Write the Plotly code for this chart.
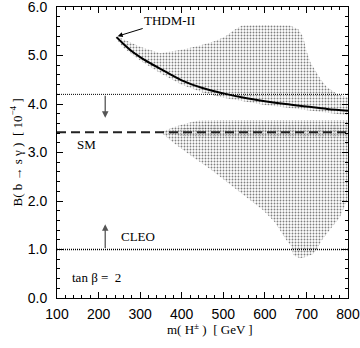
import plotly.graph_objects as go

# THDM-II prediction curve
curve_m = [243, 260, 280, 300, 325, 350, 375, 400, 450, 500, 550, 600, 650, 700, 750, 800]
curve_b = [5.38, 5.24, 5.09, 4.97, 4.84, 4.72, 4.60, 4.49, 4.33, 4.22, 4.13, 4.06, 4.00, 3.95, 3.90, 3.86]

# upper scatter region (outline)
upper_m = [243, 300, 348, 400, 444, 480, 504, 525, 545, 600, 660, 680, 692, 700, 710, 720, 735, 749, 775, 800,
           800, 750, 700, 650, 600, 550, 500, 450, 400, 350, 300, 260, 243]
upper_b = [5.40, 5.18, 5.05, 5.12, 5.21, 5.30, 5.39, 5.52, 5.62, 5.63, 5.62, 5.55, 5.39, 5.10, 4.85, 4.70, 4.50, 4.35, 4.20, 4.14,
           3.77, 3.82, 3.88, 3.93, 3.98, 4.05, 4.13, 4.24, 4.40, 4.63, 4.90, 5.16, 5.34]

# lower scatter region (outline)
lower_m = [350, 380, 410, 440, 500, 600, 700, 800, 800, 790, 780, 756, 737, 725, 715, 700, 685, 668, 665, 652,
           636, 624, 596, 572, 520, 470, 420, 380, 350]
lower_b = [3.42, 3.52, 3.60, 3.66, 3.67, 3.67, 3.67, 3.67, 2.05, 1.85, 1.66, 1.40, 1.19, 1.00, 0.90, 0.85, 0.82, 0.88, 1.05, 1.19,
           1.40, 1.56, 1.81, 1.97, 2.30, 2.65, 2.95, 3.20, 3.42]

# denser band of points around the SM value
band_m = [352, 400, 450, 800, 800, 450, 400, 352]
band_b = [3.43, 3.50, 3.56, 3.56, 3.30, 3.30, 3.34, 3.41]

x_range = [100, 800]
y_range = [0, 6.002]
cleo_upper = 4.2
cleo_lower = 1.0
sm_value = 3.42
x_ticks = [100, 200, 300, 400, 500, 600, 700, 800]
y_ticks = [0.0, 1.0, 2.0, 3.0, 4.0, 5.0, 6.0]

SERIF = "Liberation Serif"
SANS = "Liberation Sans"

fig = go.Figure()

pat = dict(shape=".", size=3, solidity=0.3, fgcolor="black", bgcolor="rgba(255,255,255,0)")
pat2 = dict(shape=".", size=2.5, solidity=0.2, fgcolor="black", bgcolor="rgba(255,255,255,0)")
fig.add_trace(go.Scatter(x=upper_m, y=upper_b, mode="lines", fill="toself", line=dict(width=0),
                         fillcolor="rgba(0,0,0,0)", fillpattern=pat, hoverinfo="skip", showlegend=False))
fig.add_trace(go.Scatter(x=lower_m, y=lower_b, mode="lines", fill="toself", line=dict(width=0),
                         fillcolor="rgba(0,0,0,0)", fillpattern=pat, hoverinfo="skip", showlegend=False))
fig.add_trace(go.Scatter(x=band_m, y=band_b, mode="lines", fill="toself", line=dict(width=0),
                         fillcolor="rgba(0,0,0,0)", fillpattern=pat2, hoverinfo="skip", showlegend=False))

# horizontal lines
fig.add_trace(go.Scatter(x=x_range, y=[cleo_upper, cleo_upper], mode="lines",
                         line=dict(color="black", width=1, dash="1px,1px"), showlegend=False))
fig.add_trace(go.Scatter(x=x_range, y=[cleo_lower, cleo_lower], mode="lines",
                         line=dict(color="black", width=1.5, dash="1px,1px"), showlegend=False))
fig.add_trace(go.Scatter(x=x_range, y=[sm_value, sm_value], mode="lines",
                         line=dict(color="#222", width=2, dash="9px,5px"), showlegend=False))

# THDM-II curve
fig.add_trace(go.Scatter(x=curve_m, y=curve_b, mode="lines", line=dict(color="black", width=2),
                         line_shape="spline", showlegend=False))

ann = []
# arrows for CLEO bounds
ann.append(dict(x=216, y=3.72, ax=216, ay=cleo_upper, xref="x", yref="y", axref="x", ayref="y",
                showarrow=True, arrowhead=2, arrowsize=1, arrowwidth=1.3, arrowcolor="#555", text=""))
ann.append(dict(x=216, y=1.52, ax=216, ay=cleo_lower, xref="x", yref="y", axref="x", ayref="y",
                showarrow=True, arrowhead=2, arrowsize=1, arrowwidth=1.3, arrowcolor="#555", text=""))
# THDM-II label
ann.append(dict(x=246, y=5.40, ax=52, ay=-16, xref="x", yref="y", text="THDM-II",
                showarrow=True, arrowhead=2, arrowsize=1, arrowwidth=1, arrowcolor="black",
                font=dict(family=SERIF, size=13, color="black")))
ann.append(dict(x=172, y=3.17, xref="x", yref="y", text="SM", showarrow=False,
                font=dict(family=SERIF, size=13, color="black")))
ann.append(dict(x=296, y=1.27, xref="x", yref="y", text="CLEO", showarrow=False,
                font=dict(family=SERIF, size=13, color="black")))
ann.append(dict(x=194, y=0.43, xref="x", yref="y", text="tan β =  2", showarrow=False,
                font=dict(family=SERIF, size=13, color="black")))
# axis titles
ann.append(dict(x=0, y=0.5, xref="paper", yref="paper", xshift=-41, textangle=-90,
                xanchor="center", yanchor="middle",
                text="B( b → s γ )  [ 10<sup>−4</sup> ]", showarrow=False,
                font=dict(family=SERIF, size=13, color="black")))
ann.append(dict(x=0.5, y=0, xref="paper", yref="paper", xshift=7, yshift=-31,
                xanchor="center", yanchor="middle",
                text="m( H<sup>±</sup> )  [ GeV ]", showarrow=False,
                font=dict(family=SERIF, size=13, color="black")))

axis_common = dict(showgrid=False, zeroline=False, showline=True, linecolor="black", linewidth=1,
                   mirror="allticks", ticks="inside", tickcolor="black", tickwidth=1, automargin=False,
                   ticklabeloverflow="allow",
                   tickfont=dict(family=SANS, size=14, color="black"))

fig.update_layout(
    width=360, height=348,
    margin=dict(l=57, r=12, t=7, b=50, autoexpand=False),
    paper_bgcolor="white", plot_bgcolor="white",
    xaxis=dict(range=x_range, tickvals=x_ticks, ticklen=6,
               minor=dict(dtick=20, ticklen=3, ticks="inside", tickcolor="black"),
               ticklabelstandoff=3, **axis_common),
    yaxis=dict(range=y_range, tickvals=y_ticks, tickformat=".1f", ticklen=6,
               minor=dict(dtick=0.2, ticklen=3, ticks="inside", tickcolor="black"),
               ticklabelstandoff=6, **axis_common),
    annotations=ann,
)

fig.write_html("out.html", config={"displayModeBar": False})
with open("out.html", "r", encoding="utf-8") as f:
    html = f.read()
html = html.replace("<head>", "<head><style>html,body{margin:0;padding:0;overflow:hidden;}</style>", 1)
with open("out.html", "w", encoding="utf-8") as f:
    f.write(html)
